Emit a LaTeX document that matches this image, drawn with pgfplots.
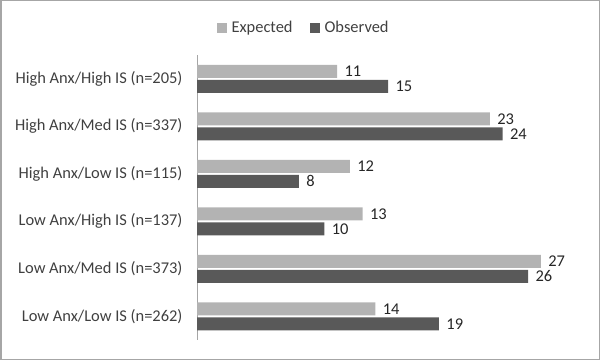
\documentclass[border=0pt]{standalone}
\usepackage{pgfplots}
\pgfplotsset{compat=1.18}
\usepackage{fontspec}
\setmainfont{Carlito}
\definecolor{expc}{HTML}{B3B3B3}
\definecolor{obsc}{HTML}{595959}
\definecolor{txt}{HTML}{404040}
\definecolor{frame}{HTML}{A6A6A6}
\begin{document}
\begin{tikzpicture}[x=1bp,y=1bp]
\draw[color=frame, line width=1.5bp] (0.75,0.75) rectangle (599.25,359.25);
\begin{axis}[
  at={(197bp,20bp)}, anchor=south west,
  scale only axis, width=382bp, height=285bp,
  xmin=0, xmax=30, ymin=0.5, ymax=6.5, y dir=reverse,
  xbar, bar width=13bp,
  /pgf/number format/assume math mode=true,
  hide x axis,
  axis y line*=left,
  y axis line style={draw=frame, line width=0.8bp, -},
  ytick={1,2,3,4,5,6},
  yticklabels={High Anx/High IS (n=205), High Anx/Med IS (n=337), High Anx/Low IS (n=115), Low Anx/High IS (n=137), Low Anx/Med IS (n=373), Low Anx/Low IS (n=262)},
  major tick length=0pt,
  yticklabel style={font=\fontsize{16.5}{18}\selectfont, color=txt, xshift=-11bp},
  nodes near coords,
  nodes near coords style={font=\fontsize{16.5}{18}\selectfont, color=black!85, anchor=west, xshift=4bp},
  legend style={at={(0.279,1.095)}, anchor=center, legend columns=2, draw=none, fill=none,
    font=\fontsize{16.5}{18}\selectfont, text=txt,
    /tikz/every even column/.append style={column sep=15bp}},
  legend image code/.code={\fill[#1] (0bp,-5bp) rectangle (10bp,5bp); \path (13bp,0bp);},
]
\addplot[fill=expc, draw=none, bar shift=7.5bp] coordinates {(11,1) (23,2) (12,3) (13,4) (27,5) (14,6)};
\addplot[fill=obsc, draw=none, bar shift=-7.5bp] coordinates {(15,1) (24,2) (8,3) (10,4) (26,5) (19,6)};
\legend{Expected, Observed}
\end{axis}
\end{tikzpicture}
\end{document}
